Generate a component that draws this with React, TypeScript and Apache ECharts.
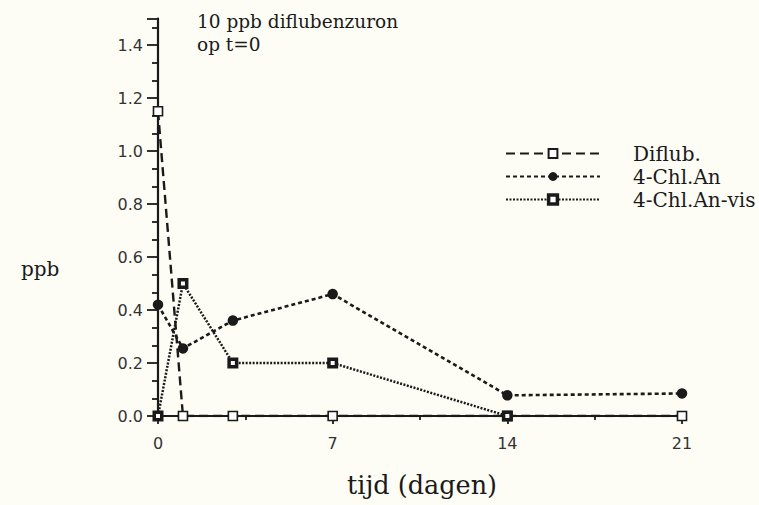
import React, { useEffect, useRef } from "react";
import * as echarts from "echarts";

const days = [0, 1, 3, 7, 14, 21];
const diflub = [1.15, 0, 0, 0, 0, 0];
const chlAn = [0.42, 0.255, 0.36, 0.46, 0.078, 0.085];
const visDays = [0, 1, 3, 7, 14];
const chlAnVis = [0, 0.5, 0.2, 0.2, 0];
const seriesNames = ["Diflub.", "4-Chl.An", "4-Chl.An-vis"];
const titleLines = ["10 ppb diflubenzuron", "op t=0"];
const yTitle = "ppb";
const xTitle = "tijd (dagen)";

const INK = "#1a1a1a";
const SERIF = "'DejaVu Serif', 'Liberation Serif', serif";
const SANS = "'DejaVu Sans', 'Liberation Sans', sans-serif";

export default function App() {
  const ref = useRef<HTMLDivElement>(null);
  useEffect(() => {
    document.body.style.margin = "0";
    if (!ref.current) return;
    const chart = echarts.init(ref.current, undefined, { renderer: "svg" });
    const pairs = (xs: number[], ys: number[]) => xs.map((x, i) => [x, ys[i]]);
    const visItem = { color: "#fff", borderColor: INK, borderWidth: 3.5 };
    chart.setOption({
      animation: false,
      backgroundColor: "#fdfdf6",
      grid: { left: 158, right: 77, top: 18.5, bottom: 89, containLabel: false },
      xAxis: {
        type: "value",
        min: 0,
        max: 21,
        interval: 7,
        axisLine: { show: true, lineStyle: { color: INK, width: 2.2 } },
        axisTick: { show: true, length: 8, lineStyle: { color: INK, width: 1.8 } },
        minorTick: { show: true, splitNumber: 2, length: 4, lineStyle: { color: INK, width: 1.8 } },
        axisLabel: { color: "#333", fontFamily: SANS, fontSize: 16, margin: 19 },
        splitLine: { show: false },
        minorSplitLine: { show: false },
      },
      yAxis: {
        type: "value",
        min: 0,
        max: 1.5,
        interval: 0.2,
        axisLine: { show: true, lineStyle: { color: INK, width: 2.2 } },
        axisTick: { show: true, length: 11, lineStyle: { color: INK, width: 1.8 } },
        minorTick: { show: true, splitNumber: 3, length: 6, lineStyle: { color: INK, width: 1.8 } },
        axisLabel: {
          showMaxLabel: false,
          formatter: (v: number) => v.toFixed(1),
          color: "#333",
          fontFamily: SANS,
          fontSize: 16,
          margin: 15,
        },
        splitLine: { show: false },
        minorSplitLine: { show: false },
      },
      legend: {
        orient: "vertical",
        left: 500,
        top: 138,
        itemWidth: 94,
        itemHeight: 11,
        itemGap: 2,
        data: [
          { name: seriesNames[0] },
          { name: seriesNames[1] },
          { name: seriesNames[2], itemStyle: visItem },
        ],
        textStyle: { color: INK, fontFamily: SERIF, fontSize: 20, lineHeight: 21, padding: [0, 0, 0, 28] },
      },
      series: [
        {
          name: seriesNames[0],
          type: "line",
          data: pairs(days, diflub),
          symbol: "rect",
          symbolSize: 9,
          lineStyle: { color: INK, width: 2.4, type: [9, 5] },
          itemStyle: { color: "#fff", borderColor: INK, borderWidth: 1.6 },
          z: 3,
        },
        {
          name: seriesNames[1],
          type: "line",
          data: pairs(days, chlAn),
          symbol: "circle",
          symbolSize: 10.5,
          lineStyle: { color: INK, width: 2.6, type: [4, 3] },
          itemStyle: { color: INK, borderColor: INK, borderWidth: 0 },
          z: 4,
        },
        {
          name: seriesNames[2],
          type: "line",
          data: pairs(visDays, chlAnVis),
          symbol: "rect",
          symbolSize: 7.5,
          lineStyle: { color: INK, width: 2.5, type: [2, 1.5] },
          itemStyle: visItem,
          z: 5,
        },
      ],
      graphic: [
        {
          type: "text",
          left: 197,
          top: 10,
          style: {
            text: titleLines.join("\n"),
            fill: INK,
            font: `18.5px ${SERIF}`,
            lineHeight: 23,
          },
        },
        {
          type: "text",
          left: 21,
          top: 259,
          style: { text: yTitle, fill: INK, font: `20px ${SERIF}` },
        },
        {
          type: "text",
          left: 347,
          top: 472,
          style: { text: xTitle, fill: INK, font: `25.5px ${SERIF}` },
        },
      ],
    });
    return () => chart.dispose();
  }, []);
  return <div ref={ref} style={{ width: 759, height: 505 }} />;
}
